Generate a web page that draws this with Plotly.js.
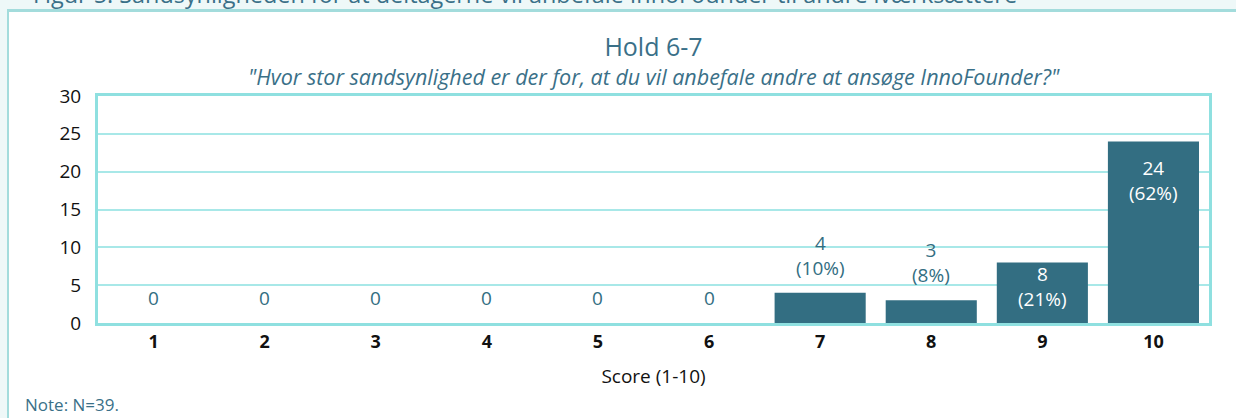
<!DOCTYPE html>
<html>
<head>
<meta charset="utf-8">
<script src="https://cdn.plot.ly/plotly-3.0.1.min.js"></script>
<style>
  html, body { margin: 0; padding: 0; width: 1236px; height: 418px; overflow: hidden; background: #eef8f8; }
  #header { position: absolute; left: 33px; top: -22px; font-family: "Open Sans", sans-serif; font-size: 23.4px; color: #3a7088; white-space: nowrap; }
  #frame { position: absolute; left: 7px; top: 9px; width: 1300px; height: 500px; background: #ffffff; border-left: 2px solid #a3dcdc; border-top: 3px solid #a3dcdc; }
  #chart { position: absolute; left: 0; top: 0; width: 1236px; height: 418px; }
</style>
</head>
<body>
<div id="header">Figur 5: Sandsynligheden for at deltagerne vil anbefale InnoFounder til andre iværksættere</div>
<div id="frame"></div>
<div id="chart"></div>
<script>
const categories = ["1", "2", "3", "4", "5", "6", "7", "8", "9", "10"];
const counts = [0, 0, 0, 0, 0, 0, 4, 3, 8, 24];
const N = 39;
const yTicks = [0, 5, 10, 15, 20, 25, 30];

const plotTop = 96, plotBottom = 95, H = 418;
const plotH = H - plotTop - plotBottom;
const yMax = 30;

const labels = counts.map(c => c === 0 ? "0" : c + "<br>(" + Math.round(100 * c / N) + "%)");

const trace = {
  type: "bar",
  x: categories,
  y: counts,
  marker: { color: "#336e82", line: { width: 0 } },
  hoverinfo: "none"
};

const labelAnns = categories.map((cat, i) => {
  const c = counts[i];
  const inside = c >= 8;
  const barPx = c / yMax * plotH;
  return {
    x: i, y: c, xref: "x", yref: "y",
    text: labels[i],
    showarrow: false,
    xanchor: "center",
    yanchor: inside ? "top" : "bottom",
    yshift: inside ? -Math.min(12, barPx - 64) : 10,
    font: { family: "Open Sans, sans-serif", size: 19, color: inside ? "#ffffff" : "#336e82" }
  };
});

const layout = {
  width: 1236,
  height: 418,
  margin: { l: 98, r: 27, t: plotTop, b: plotBottom },
  paper_bgcolor: "rgba(0,0,0,0)",
  plot_bgcolor: "#ffffff",
  bargap: 0.18,
  showlegend: false,
  title: {
    text: "Hold 6-7",
    font: { family: "Open Sans, sans-serif", size: 25, color: "#3a7088" },
    x: 0.5, xanchor: "center", xref: "paper",
    y: 1 - 38 / 418, yref: "container", yanchor: "top",
    pad: { t: 0, b: 0, l: 0, r: 0 }
  },
  annotations: [
    {
      text: "<i>\"Hvor stor sandsynlighed er der for, at du vil anbefale andre at ansøge InnoFounder?\"</i>",
      xref: "paper", yref: "paper", x: 0.5, y: 1 + (96 - 76) / plotH, xanchor: "center", yanchor: "middle",
      showarrow: false,
      font: { family: "Open Sans, sans-serif", size: 21.5, color: "#3a7088" }
    },
    {
      text: "Note: N=39.",
      xref: "paper", yref: "paper", x: (23 - 98) / 1111, y: -(404 - 323) / plotH, xanchor: "left", yanchor: "middle",
      showarrow: false,
      font: { family: "Open Sans, sans-serif", size: 17, color: "#3a7088" }
    }
  ].concat(labelAnns),
  xaxis: {
    type: "category",
    range: [-0.5, categories.length - 0.5],
    tickfont: { family: "Open Sans, sans-serif", size: 18, color: "#111111", weight: "bold" },
    ticks: "",
    showgrid: false,
    showline: true, linecolor: "#8fe0e0", linewidth: 3, mirror: true,
    title: { text: "Score (1-10)", font: { family: "Open Sans, sans-serif", size: 19, color: "#111111" }, standoff: 19 }
  },
  yaxis: {
    range: [0, yMax],
    tickvals: yTicks,
    ticktext: yTicks.map(String),
    tickfont: { family: "Open Sans, sans-serif", size: 19, color: "#111111" },
    ticks: "",
    ticklabelstandoff: 10,
    showgrid: true, gridcolor: "#a8e8e8", gridwidth: 2,
    zeroline: false,
    showline: true, linecolor: "#8fe0e0", linewidth: 3, mirror: true
  }
};

Plotly.newPlot("chart", [trace], layout, { displayModeBar: false, staticPlot: true });
</script>
</body>
</html>
